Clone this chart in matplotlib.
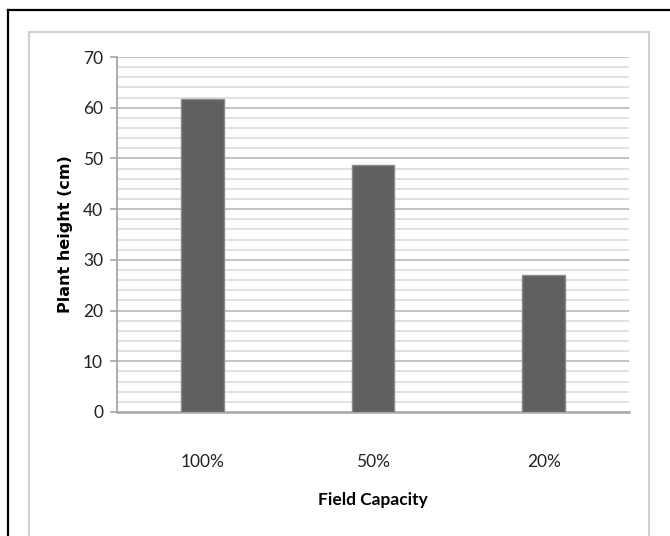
import matplotlib
matplotlib.use("Agg")
import matplotlib.pyplot as plt
from matplotlib.lines import Line2D
import numpy as np

categories = ["100%", "50%", "20%"]
heights = [61.8, 48.8, 27.1]
y_ticks = [0, 10, 20, 30, 40, 50, 60, 70]

W, H = 670, 536
fig = plt.figure(figsize=(W / 100, H / 100), dpi=100)
fig.patch.set_facecolor("white")

def fx(px):
    return px / W

def fy(py):
    return 1 - py / H

# outer black frame (top and left)
fig.add_artist(Line2D([fx(8), 1.0], [fy(10), fy(10)], color="black", lw=1.6))
fig.add_artist(Line2D([fx(8), fx(8)], [fy(10), 0.0], color="black", lw=1.6))
# inner gray chart frame
gc = "#d0d0d0"
fig.add_artist(Line2D([fx(29), fx(649)], [fy(32), fy(32)], color=gc, lw=1.5))
fig.add_artist(Line2D([fx(29), fx(29)], [fy(32), 0.0], color=gc, lw=1.5))
fig.add_artist(Line2D([fx(649), fx(649)], [fy(32), 0.0], color=gc, lw=1.5))

ax = fig.add_axes([fx(117), fy(412), fx(629) - fx(117), fy(57) - fy(412)])
ax.set_facecolor("white")

x = np.arange(len(categories))
ax.set_xlim(-0.5, len(categories) - 0.5)
ax.set_ylim(0, 70)

# gridlines
for v in np.arange(2, 70, 2):
    major = (v % 10 == 0)
    ax.axhline(v, color="#bdbdbd" if major else "#d9d9d9", lw=1.3 if major else 1.1, zorder=1)
ax.axhline(70, color="#bdbdbd", lw=1.3, zorder=1)

ax.bar(x, heights, width=0.25, color="#606060", edgecolor="#8a8a8a", linewidth=1.0, zorder=3)

for s in ["top", "right"]:
    ax.spines[s].set_visible(False)
ax.spines["left"].set_color("#a6a6a6")
ax.spines["bottom"].set_color("#a6a6a6")
ax.spines["left"].set_linewidth(1.3)
ax.spines["bottom"].set_linewidth(1.8)

font = "Lato"
ax.set_yticks(y_ticks)
ax.set_yticklabels([str(v) for v in y_ticks], fontsize=12.5, family=font, color="#222222")
ax.tick_params(axis="y", length=5, width=1.2, color="#a6a6a6", pad=5)
ax.set_xticks(x)
ax.set_xticklabels(categories, fontsize=12.5, family=font, color="#222222")
ax.tick_params(axis="x", length=0, pad=30)

ax.set_ylabel("Plant height (cm)", fontsize=11.5, fontweight="bold", family="DejaVu Sans", labelpad=7)
ax.set_xlabel("Field Capacity", fontsize=12.5, fontweight="bold", family=font, labelpad=16)

fig.savefig("out.png", dpi=100, facecolor="white")
